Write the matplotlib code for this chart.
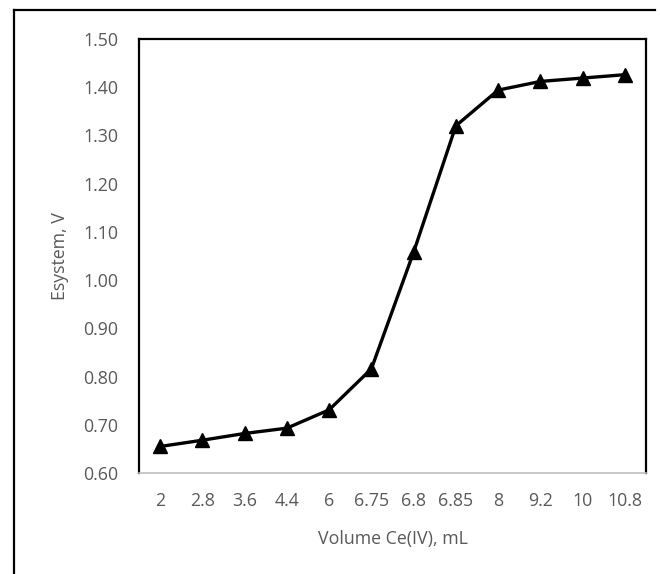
import matplotlib
matplotlib.use("Agg")
import matplotlib.pyplot as plt
from matplotlib.lines import Line2D

categories = ["2", "2.8", "3.6", "4.4", "6", "6.75", "6.8", "6.85", "8", "9.2", "10", "10.8"]
esystem = [0.655, 0.668, 0.682, 0.693, 0.731, 0.816, 1.058, 1.320, 1.394, 1.412, 1.419, 1.426]
yticks = [0.60, 0.70, 0.80, 0.90, 1.00, 1.10, 1.20, 1.30, 1.40, 1.50]

plt.rcParams['font.family'] = ['Open Sans', 'DejaVu Sans']
gray = "#595959"

fig = plt.figure(figsize=(6.6, 5.74), dpi=100)
ax = fig.add_axes([139/660, (574-473)/574, 507/660, 434/574])

x = list(range(len(categories)))
ax.plot(x, esystem, color="black", lw=2.4, marker="^", markersize=10.5, clip_on=False, zorder=3)

ax.set_xlim(-0.5, len(categories) - 0.5)
ax.set_ylim(0.60, 1.50)
ax.set_xticks(x)
ax.set_xticklabels(categories)
ax.set_yticks(yticks)
ax.set_yticklabels([f"{v:.2f}" for v in yticks])
ax.tick_params(axis="both", length=0, labelsize=12.8, colors=gray)
ax.tick_params(axis="y", pad=15)
ax.tick_params(axis="x", pad=14)

for s in ["left", "right", "top"]:
    ax.spines[s].set_color("black")
    ax.spines[s].set_linewidth(1.6)
ax.spines["bottom"].set_color("#bfbfbf")
ax.spines["bottom"].set_linewidth(1.2)

ax.set_xlabel("Volume Ce(IV), mL", fontsize=12.8, color=gray, labelpad=14)
ax.set_ylabel("Esystem, V", fontsize=12.8, color=gray, labelpad=10)

# outer chart border (top and left visible)
fig.add_artist(Line2D([14/660, 655/660], [1 - 10/574, 1 - 10/574], color="black", lw=1.6, transform=fig.transFigure))
fig.add_artist(Line2D([14/660, 14/660], [1 - 10/574, 0], color="black", lw=1.6, transform=fig.transFigure))

fig.savefig("out.png", dpi=100)
